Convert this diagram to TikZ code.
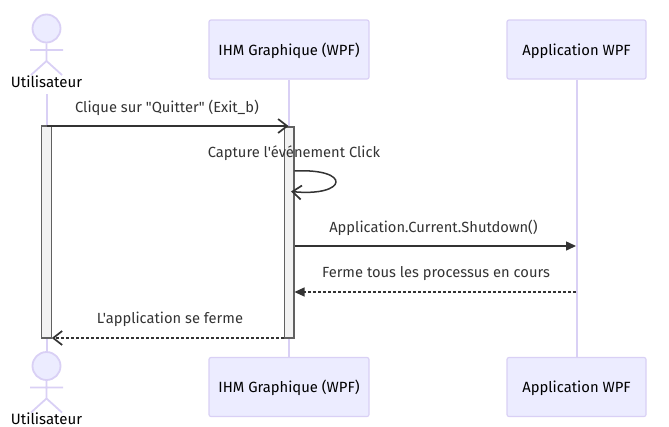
\documentclass[tikz,border=0pt]{standalone}
\usepackage{fontspec}
\newfontfamily\uifont{Fira Sans}
\usetikzlibrary{arrows.meta}
\definecolor{actorfill}{HTML}{ECECFF}
\definecolor{actorline}{HTML}{D9D0F5}
\definecolor{inktext}{HTML}{333333}
\tikzset{
  x=1pt,y=-1pt,
  partbox/.style={draw=actorline,fill=actorfill,line width=1.2pt,rounded corners=2pt,minimum height=59pt,inner sep=0pt,font=\uifont\fontsize{14.8}{17}\selectfont,text=black,text depth=0pt,text height=11pt},
  life/.style={draw=actorline,line width=2pt},
  actorstroke/.style={draw=actorline,line width=1.8pt},
  activ/.style={draw=black!62,fill=black!5,line width=1.1pt,minimum width=9.5pt,inner sep=0pt},
  msg/.style={font=\uifont\fontsize{14.7}{17}\selectfont,text=inktext,inner sep=0pt},
  actorlabel/.style={font=\uifont\fontsize{15}{17}\selectfont,text=black,inner sep=0pt},
  openhead/.style={-{Straight Barb[length=9pt,width=14pt,line width=1.7pt]}},
  fillhead/.style={-{Triangle[length=10pt,width=9pt]}},
  wire/.style={draw=inktext,line width=1.5pt},
  dashwire/.style={draw=inktext,line width=1.2pt,dash pattern=on 3pt off 2pt},
}
\begin{document}
\begin{tikzpicture}
\useasboundingbox (0,0) rectangle (669,426);
% participants
\node[partbox,minimum width=160pt] (ihmT) at (289,49.5) {IHM Graphique (WPF)};
\node[partbox,minimum width=139pt] (appT) at (576.5,49.5) {Application WPF};
\node[partbox,minimum width=160pt] (ihmB) at (289,387) {IHM Graphique (WPF)};
\node[partbox,minimum width=139pt] (appB) at (576.5,387) {Application WPF};
% actor labels
\node[actorlabel] (userT) at (46.5,82) {Utilisateur};
\node[actorlabel] (userB) at (46.5,418.5) {Utilisateur};
% lifelines
\coordinate (userTop) at (46.5,94);
\coordinate (userBot) at (46.5,352);
\draw[life] (userTop) -- (userBot);
\draw[life] (ihmT.south) -- (ihmB.north);
\draw[life] (appT.south) -- (appB.north);
% actor figures
\node[circle,draw=actorline,fill=actorfill,line width=1.8pt,minimum size=28pt,inner sep=0pt] (headT) at (46.5,28.5) {};
\node[circle,draw=actorline,fill=actorfill,line width=1.8pt,minimum size=28pt,inner sep=0pt] (headB) at (46.5,366) {};
\coordinate (hipT) at (46.5,61); \coordinate (hipB) at (46.5,398.5);
\coordinate (armTl) at (30,50); \coordinate (armTr) at (63,50);
\coordinate (armBl) at (30,387.5); \coordinate (armBr) at (63,387.5);
\coordinate (legTl) at (31,75); \coordinate (legTr) at (62,75);
\coordinate (legBl) at (31,412.5); \coordinate (legBr) at (62,412.5);
\draw[actorstroke] (headT.south) -- (hipT) (armTl) -- (armTr) (legTl) -- (hipT) -- (legTr);
\draw[actorstroke] (headB.south) -- (hipB) (armBl) -- (armBr) (legBl) -- (hipB) -- (legBr);
% activations
\node[activ,minimum height=212pt] (actU) at (46.5,232) {};
\node[activ,minimum height=211pt] (actI) at (289.2,232.5) {};
% messages
\coordinate (m1s) at (47,126); \coordinate (m1e) at (288.5,126);
\draw[wire,openhead] (m1s) -- (m1e);
\coordinate (s1) at (actI.east |- 0,171); \coordinate (s2) at (291,191.5);
\draw[wire,openhead] (s1) .. controls (352,168) and (348,197) .. (s2);
\coordinate (m3s) at (actI.east |- 0,246); \coordinate (m3e) at (576,246);
\draw[wire,fillhead] (m3s) -- (m3e);
\coordinate (m4s) at (576,292); \coordinate (m4e) at (actI.east |- 0,292);
\draw[dashwire,fillhead] (m4s) -- (m4e);
\coordinate (m5s) at (actI.west |- 0,338); \coordinate (m5e) at (actU.east |- 0,338);
\draw[dashwire,openhead] (m5s) -- (m5e);
% labels
\node[msg] (l1) at (167,107.5) {Clique sur "Quitter" (Exit\_b)};
\node[msg] (l2) at (294,153.5) {Capture l'événement Click};
\node[msg] (l3) at (433.5,227.5) {Application.Current.Shutdown()};
\node[msg] (l4) at (436,273.5) {Ferme tous les processus en cours};
\node[msg] (l5) at (170,319.5) {L'application se ferme};
\end{tikzpicture}
\end{document}
